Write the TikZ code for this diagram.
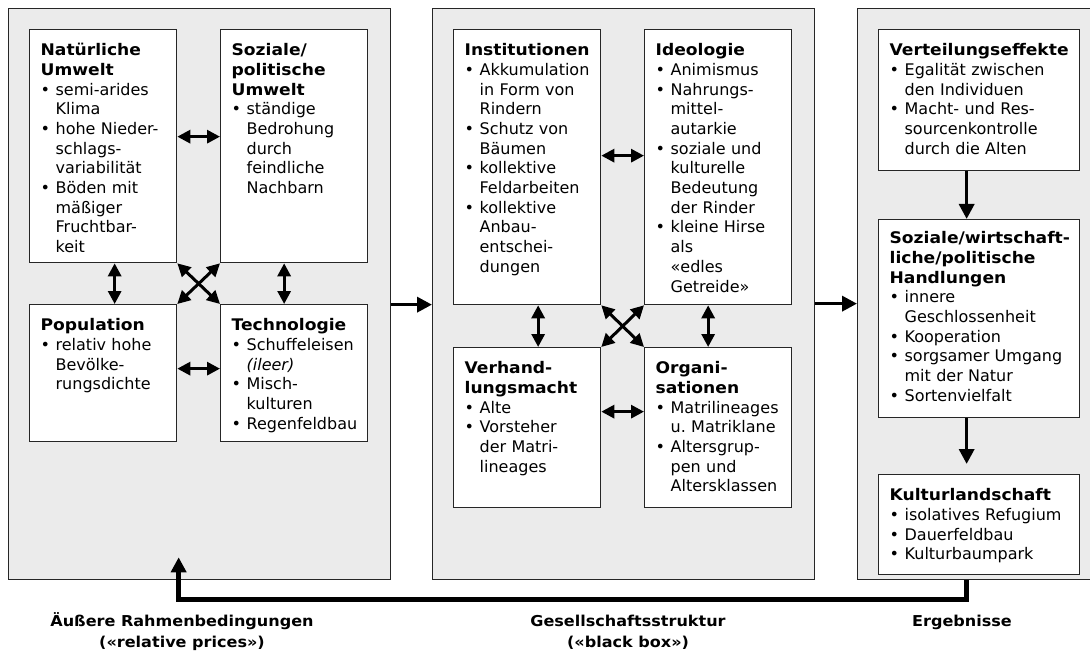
\documentclass[tikz,border=0pt]{standalone}
\usepackage{fontspec}
\setmainfont{DejaVu Sans}[BoldFeatures={FakeStretch=1.07}]
\usetikzlibrary{arrows.meta}

\newcommand\itm[1]{\par\noindent\hangindent=15bp\hangafter=1\makebox[15bp][l]{\textbullet}#1\par}

\begin{document}
\frenchspacing
\begin{tikzpicture}[%
  x=1bp, y=-1bp,
  font=\fontsize{16bp}{19.7bp}\selectfont,
  panel/.style = {draw=black!85, line width=1.3bp, fill=black!8, anchor=north west, inner sep=0pt},
  box/.style = {draw=black!85, line width=1.3bp, fill=white, anchor=north west, align=left,
    inner xsep=11bp, inner ysep=0pt, text width=125bp, text height=26bp},
  wide/.style = {text width=179bp},
  lab/.style = {font=\fontsize{15bp}{21bp}\selectfont\bfseries, align=center},
  dbl/.style = {line width=3bp, {Triangle[length=13bp,width=13bp]}-{Triangle[length=13bp,width=13bp]}},
  arr/.style = {line width=3.5bp, -{Triangle[length=15bp,width=15bp]}},
  fb/.style = {line width=4.5bp, -{Triangle[length=15bp,width=15bp]}},
]
  \useasboundingbox (0,0) rectangle (1090,651);
  \clip (0,0) rectangle (1090,651);

  % the three columns
  \node[panel, minimum width=382bp, minimum height=571bp] (rahmen) at (8,8) {};
  \node[panel, minimum width=382bp, minimum height=571bp] (gesell) at (432,8) {};
  \node[panel, minimum width=240bp, minimum height=571bp] (ergeb) at (857,8) {};

  % outer conditions
  \node[box, text depth=207bp] (natur) at (29,29)
    {\textbf{Natürliche\newline Umwelt}\itm{semi-arides\newline Klima}\itm{hohe Nieder-\newline schlags-\newline variabilität}\itm{Böden mit\newline mäßiger\newline Fruchtbar-\newline keit}};
  \node[box, text depth=207bp] (sozial) at (220,29)
    {\textbf{Soziale/\newline politische\newline Umwelt}\itm{ständige\newline Bedrohung\newline durch\newline feindliche\newline Nachbarn}};
  \node[box, text depth=111bp] (popul) at (29,304)
    {\textbf{Population}\itm{relativ hohe\newline Bevölke-\newline rungsdichte}};
  \node[box, text depth=111bp] (techn) at (220,304)
    {\textbf{Technologie}\itm{Schuffeleisen\newline \textit{(ileer)}}\itm{Misch-\newline kulturen}\itm{Regenfeldbau}};

  % social structure
  \node[box, text depth=249bp] (instit) at (453,29)
    {\textbf{Institutionen}\itm{Akkumulation\newline in Form von\newline Rindern}\itm{Schutz von\newline Bäumen}\itm{kollektive\newline Feldarbeiten}\itm{kollektive\newline Anbau-\newline entschei-\newline dungen}};
  \node[box, text depth=249bp] (ideol) at (644,29)
    {\textbf{Ideologie}\itm{Animismus}\itm{Nahrungs-\newline mittel-\newline autarkie}\itm{soziale und\newline kulturelle\newline Bedeutung\newline der Rinder}\itm{kleine Hirse\newline als\newline «edles\newline Getreide»}};
  \node[box, text depth=134bp] (verh) at (453,347)
    {\textbf{Verhand-\newline lungsmacht}\itm{Alte}\itm{Vorsteher\newline der Matri-\newline lineages}};
  \node[box, text depth=134bp] (organ) at (644,347)
    {\textbf{Organi-\newline sationen}\itm{Matrilineages\newline u. Matriklane}\itm{Altersgrup-\newline pen und\newline Altersklassen}};

  % results
  \node[box, wide, text depth=115bp] (verteil) at (878,29)
    {\textbf{Verteilungseffekte}\itm{Egalität zwischen\newline den Individuen}\itm{Macht- und Res-\newline sourcenkontrolle\newline durch die Alten}};
  \node[box, wide, text height=24bp, text depth=174bp] (handl) at (878,219)
    {\textbf{\mbox{Soziale/wirtschaft-}\newline liche/politische\newline Handlungen}\itm{innere\newline Geschlossenheit}\itm{Kooperation}\itm{sorgsamer Umgang\newline mit der Natur}\itm{Sortenvielfalt}};
  \node[box, wide, text depth=74bp] (kultur) at (878,474)
    {\textbf{Kulturlandschaft}\itm{isolatives Refugium}\itm{Dauerfeldbau}\itm{Kulturbaumpark}};

  \draw[dbl] ([yshift=9.5bp]natur.east) -- ([yshift=9.5bp]sozial.west);
  \draw[dbl] ([yshift=4.5bp]popul.east) -- ([yshift=4.5bp]techn.west);
  \draw[dbl] ([xshift=11.5bp]natur.south) -- ([xshift=11.5bp]popul.north);
  \draw[dbl] ([xshift=-10bp]sozial.south) -- ([xshift=-10bp]techn.north);
  \draw[dbl] (natur.south east) -- (techn.north west);
  \draw[dbl] (sozial.south west) -- (popul.north east);

  \draw[dbl] ([yshift=11.5bp]instit.east) -- ([yshift=11.5bp]ideol.west);
  \draw[dbl] ([yshift=16bp]verh.east) -- ([yshift=16bp]organ.west);
  \draw[dbl] ([xshift=11bp]instit.south) -- ([xshift=11bp]verh.north);
  \draw[dbl] ([xshift=-10bp]ideol.south) -- ([xshift=-10bp]organ.north);
  \draw[dbl] (instit.south east) -- (organ.north west);
  \draw[dbl] (ideol.south west) -- (verh.north east);

  \draw[arr] ([xshift=-12.5bp]verteil.south) -- ([xshift=-12.5bp]handl.north);
  \draw[arr] ([xshift=-12.5bp]handl.south) -- ([xshift=-12.5bp,yshift=10bp]kultur.north);

  \draw[arr] ([yshift=-10.5bp]rahmen.east) -- ([yshift=-10.5bp]gesell.west);
  \draw[arr] ([yshift=-9.5bp]gesell.east) -- ([yshift=-9.5bp]ergeb.west);
  \draw[fb] ([xshift=-11bp]ergeb.south) -- ++(0,19) -| ([xshift=-21bp,yshift=23bp]rahmen.south);

  \node[lab] (lrahmen) at (182,632) {Äußere Rahmenbedingungen\\(«relative prices»)};
  \node[lab] (lgesell) at (628,632) {Gesellschaftsstruktur\\(«black box»)};
  \node[lab] (lergeb) at (962,622) {Ergebnisse};
\end{tikzpicture}
\end{document}
